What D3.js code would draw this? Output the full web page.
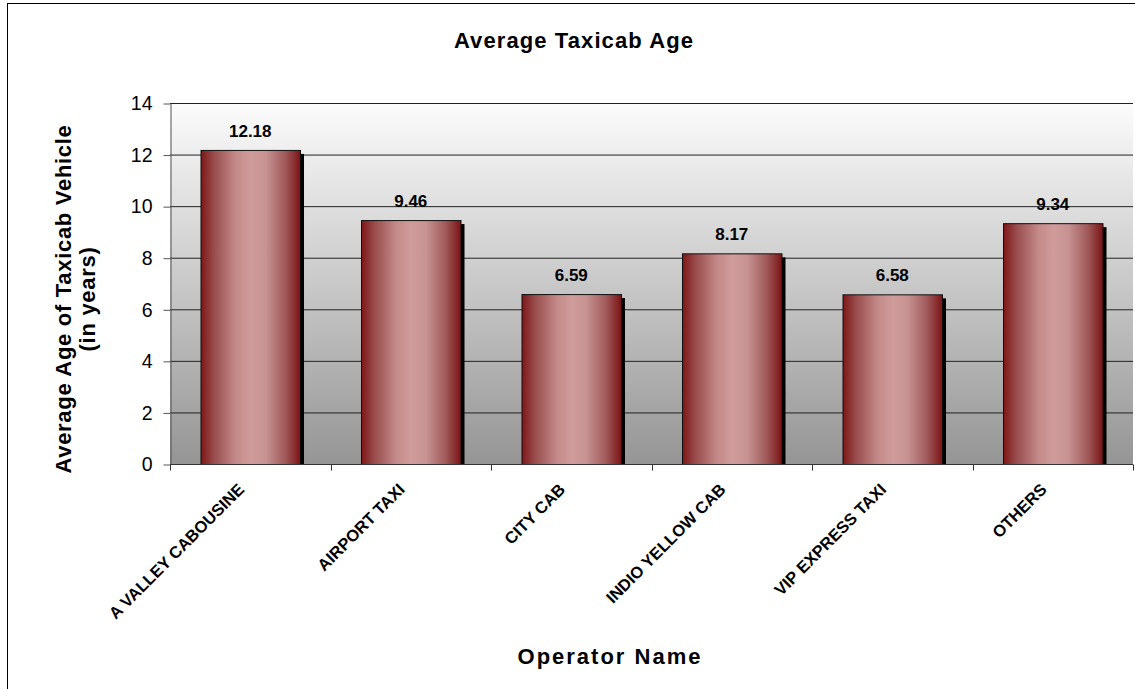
<!DOCTYPE html>
<html>
<head>
<meta charset="utf-8">
<style>
  body { margin: 0; background: #fff; }
  svg { display: block; font-family: "Liberation Sans", Arial, sans-serif; }
</style>
</head>
<body>
<svg width="1135" height="689"></svg>
<script src="https://d3js.org/d3.v7.min.js"></script>
<script>
    var operators = ["A VALLEY CABOUSINE", "AIRPORT TAXI", "CITY CAB", "INDIO YELLOW CAB", "VIP EXPRESS TAXI", "OTHERS"];
    var avgAge = [12.18, 9.46, 6.59, 8.17, 6.58, 9.34];
    var yTicks = [0, 2, 4, 6, 8, 10, 12, 14];

    var svg = d3.select("svg");
    var margin = {left: 170, top: 103, right: 1133, bottom: 464};

    var x = d3.scaleBand().domain(operators).range([margin.left, margin.right]).paddingInner(0.38).paddingOuter(0.19);
    var xTick = d3.scaleBand().domain(operators).range([margin.left, margin.right]);
    var y = d3.scaleLinear().domain([0, 14]).range([margin.bottom, margin.top]);

    var defs = svg.append("defs");
    var bg = defs.append("linearGradient").attr("id", "bg").attr("x1", 0).attr("y1", 0).attr("x2", 0).attr("y2", 1);
    bg.append("stop").attr("offset", "0%").attr("stop-color", "#fcfcfc");
    bg.append("stop").attr("offset", "100%").attr("stop-color", "#959595");

    var barGrad = defs.append("linearGradient").attr("id", "bar").attr("x1", 0).attr("y1", 0).attr("x2", 1).attr("y2", 0);
    [["0%", "#7e1618"], ["12%", "#97494a"], ["35%", "#c38a89"], ["50%", "#cf9c9b"], ["65%", "#c69292"], ["85%", "#a05859"], ["100%", "#7a1214"]]
        .forEach(function (s) {
            barGrad.append("stop").attr("offset", s[0]).attr("stop-color", s[1]);
        });

    // outer frame
    svg.append("rect").attr("x", 7.5).attr("y", 3.5).attr("width", 1140).attr("height", 700)
        .attr("fill", "none").attr("stroke", "#000").attr("stroke-width", 1);

    // plot background
    svg.append("rect").attr("x", margin.left).attr("y", margin.top)
        .attr("width", margin.right - margin.left).attr("height", margin.bottom - margin.top)
        .attr("fill", "url(#bg)");

    // gridlines
    svg.append("g").selectAll("line").data(yTicks.slice(1)).enter().append("line")
        .attr("x1", margin.left).attr("x2", margin.right)
        .attr("y1", function (d) { return y(d) + 0.5; })
        .attr("y2", function (d) { return y(d) + 0.5; })
        .attr("stroke", "#222").attr("stroke-width", 1);

    // bar shadows
    svg.append("g").selectAll("rect").data(avgAge).enter().append("rect")
        .attr("x", function (d, i) { return x(operators[i]) + 4; })
        .attr("y", function (d) { return y(d) + 4; })
        .attr("width", x.bandwidth())
        .attr("height", function (d) { return y(0) - y(d) - 4; })
        .attr("fill", "#000");

    // bars
    svg.append("g").selectAll("rect").data(avgAge).enter().append("rect")
        .attr("x", function (d, i) { return x(operators[i]) + 0.5; })
        .attr("y", function (d) { return y(d) + 0.5; })
        .attr("width", x.bandwidth())
        .attr("height", function (d) { return y(0) - y(d); })
        .attr("fill", "url(#bar)")
        .attr("stroke", "#111").attr("stroke-width", 1);

    // value labels
    svg.append("g").selectAll("text").data(avgAge).enter().append("text")
        .attr("x", function (d, i) { return x(operators[i]) + x.bandwidth() / 2; })
        .attr("y", function (d) { return y(d) - 13; })
        .attr("text-anchor", "middle")
        .attr("font-size", 17).attr("font-weight", "bold")
        .text(function (d) { return d.toFixed(2); });

    // y axis
    var yAxis = svg.append("g").attr("transform", "translate(" + (margin.left + 0.5) + ",0.5)")
        .call(d3.axisLeft(y).tickValues(yTicks).tickSize(7).tickPadding(11).tickSizeOuter(0));
    yAxis.select(".domain").attr("stroke", "#555");
    yAxis.selectAll(".tick line").attr("stroke", "#555");
    yAxis.selectAll("text").attr("font-size", 19.5).attr("fill", "#000")
        .attr("font-family", "'Liberation Sans', Arial, sans-serif");

    // x axis
    var xAxis = svg.append("g").attr("transform", "translate(0," + (margin.bottom + 0.5) + ")");
    xAxis.append("line").attr("x1", margin.left).attr("x2", margin.right).attr("stroke", "#333");
    xAxis.selectAll(".tk").data(operators.concat(["end"])).enter().append("line")
        .attr("x1", function (d, i) { return Math.round(margin.left + i * xTick.bandwidth()) + 0.5; })
        .attr("x2", function (d, i) { return Math.round(margin.left + i * xTick.bandwidth()) + 0.5; })
        .attr("y1", 0).attr("y2", 6).attr("stroke", "#333");
    xAxis.selectAll("text").data(operators).enter().append("text")
        .attr("transform", function (d) {
            return "translate(" + (xTick(d) + xTick.bandwidth() / 2 - 5) + ",26) rotate(-45)";
        })
        .attr("text-anchor", "end")
        .attr("font-size", 16.5).attr("font-weight", "bold")
        .text(function (d) { return d; });

    // titles
    svg.append("text").attr("x", 574).attr("y", 48).attr("text-anchor", "middle")
        .attr("font-size", 22).attr("font-weight", "bold").attr("letter-spacing", 1.1)
        .text("Average Taxicab Age");

    svg.append("text").attr("x", 610).attr("y", 664).attr("text-anchor", "middle")
        .attr("font-size", 22).attr("font-weight", "bold").attr("letter-spacing", 2)
        .text("Operator Name");

    var yl = svg.append("text").attr("transform", "translate(71,299) rotate(-90)")
        .attr("text-anchor", "middle").attr("font-size", 22).attr("font-weight", "bold")
        .attr("letter-spacing", 0.7);
    yl.append("tspan").attr("x", 0).attr("dy", 0).text("Average Age of Taxicab Vehicle");
    yl.append("tspan").attr("x", 0).attr("dy", 24).text("(in years)");
</script>
</body>
</html>
